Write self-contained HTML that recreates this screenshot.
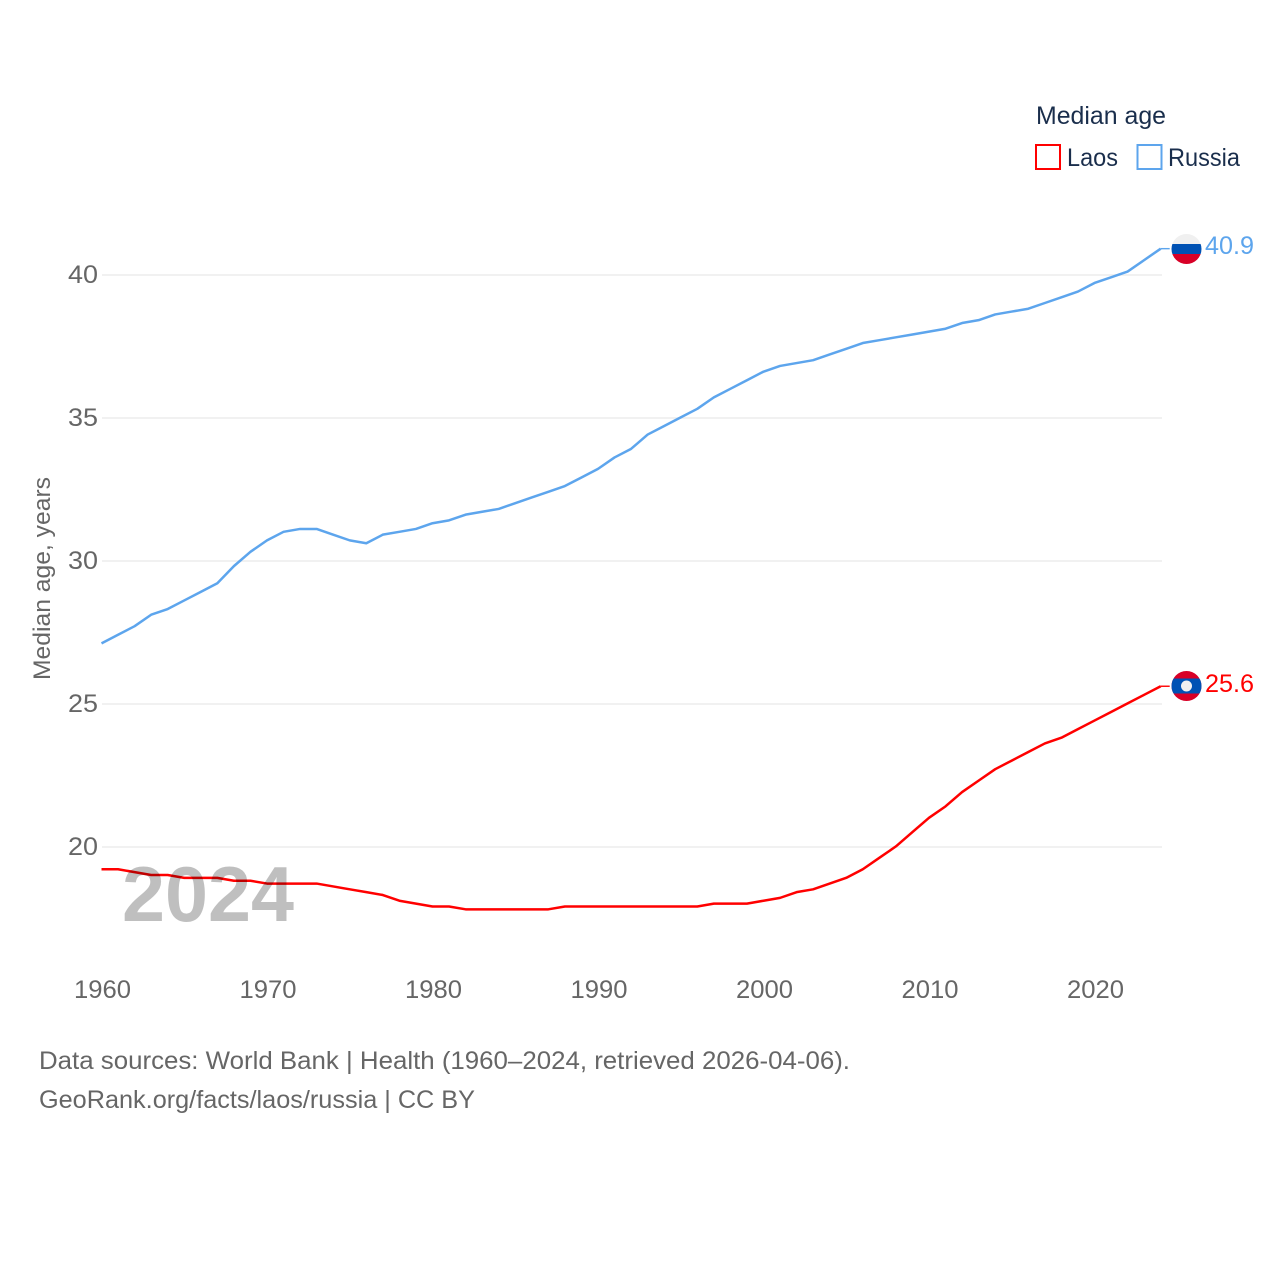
<!DOCTYPE html>
<html lang="en">
<head>
<meta charset="utf-8">
<title>Median age: Laos and Russia</title>
<style>
html,body{margin:0;padding:0;background:#fff;width:1280px;height:1280px;overflow:hidden}
svg{display:block}
text{font-family:"Liberation Sans",sans-serif}
</style>
</head>
<body>
<svg id="chart" xmlns="http://www.w3.org/2000/svg" width="1280" height="1280" viewBox="0 0 1280 1280">
  <defs>
    <clipPath id="flag-ru-clip"><circle cx="1186.500" cy="249" r="15"/></clipPath>
    <clipPath id="flag-la-clip"><circle cx="1186.500" cy="686" r="15"/></clipPath>
  </defs>
  <g id="grid"></g>
  <g id="yticks"></g>
  <g id="xticks"></g>
  <text transform="translate(50,680) rotate(-90)" font-size="24" fill="#666" textLength="203" lengthAdjust="spacingAndGlyphs">Median age, years</text>
  <g id="lines"></g>
  <text x="122" y="921" font-size="78" font-weight="700" fill="#000" fill-opacity="0.25" textLength="172" lengthAdjust="spacingAndGlyphs">2024</text>

  <g clip-path="url(#flag-ru-clip)">
    <rect x="1171" y="234" width="31" height="10" fill="#f0f0f0"/>
    <rect x="1171" y="244" width="31" height="10" fill="#0052b4"/>
    <rect x="1171" y="254" width="31" height="10" fill="#d80027"/>
  </g>
  <g clip-path="url(#flag-la-clip)">
    <rect x="1171" y="671" width="31" height="30" fill="#d80027"/>
    <rect x="1171" y="678.500" width="31" height="15" fill="#0052b4"/>
    <circle cx="1186.500" cy="686" r="5.500" fill="#f0f0f0"/>
  </g>
  <text x="1205" y="254" font-size="25" fill="#5da5ed" textLength="49" lengthAdjust="spacingAndGlyphs">40.9</text>
  <text x="1205" y="692" font-size="25" fill="#ff0000" textLength="49" lengthAdjust="spacingAndGlyphs">25.6</text>

  <g>
    <text x="1036" y="124" font-size="25" fill="#1a2e4c" textLength="130" lengthAdjust="spacingAndGlyphs">Median age</text>
    <rect x="1036" y="145" width="24" height="24" fill="none" stroke="#ff0000" stroke-width="2"/>
    <text x="1067" y="166" font-size="25" fill="#1a2e4c" textLength="51" lengthAdjust="spacingAndGlyphs">Laos</text>
    <rect x="1137.500" y="145" width="24" height="24" fill="none" stroke="#5da5ed" stroke-width="2"/>
    <text x="1168" y="166" font-size="25" fill="#1a2e4c" textLength="72" lengthAdjust="spacingAndGlyphs">Russia</text>
  </g>

  <text x="39" y="1069" font-size="25" fill="#666" textLength="811" lengthAdjust="spacingAndGlyphs">Data sources: World Bank | Health (1960–2024, retrieved 2026-04-06).</text>
  <text x="39" y="1108" font-size="25" fill="#666" textLength="436" lengthAdjust="spacingAndGlyphs">GeoRank.org/facts/laos/russia | CC BY</text>
</svg>
<script>
const years = [1960,1961,1962,1963,1964,1965,1966,1967,1968,1969,1970,1971,1972,1973,1974,1975,1976,1977,1978,1979,1980,1981,1982,1983,1984,1985,1986,1987,1988,1989,1990,1991,1992,1993,1994,1995,1996,1997,1998,1999,2000,2001,2002,2003,2004,2005,2006,2007,2008,2009,2010,2011,2012,2013,2014,2015,2016,2017,2018,2019,2020,2021,2022,2023,2024];
const russiaValues = [27.1,27.4,27.7,28.1,28.3,28.6,28.9,29.2,29.8,30.3,30.7,31.0,31.1,31.1,30.9,30.7,30.6,30.9,31.0,31.1,31.3,31.4,31.6,31.7,31.8,32.0,32.2,32.4,32.6,32.9,33.2,33.6,33.9,34.4,34.7,35.0,35.3,35.7,36.0,36.3,36.6,36.8,36.9,37.0,37.2,37.4,37.6,37.7,37.8,37.9,38.0,38.1,38.3,38.4,38.6,38.7,38.8,39.0,39.2,39.4,39.7,39.9,40.1,40.5,40.9];
const laosValues = [19.2,19.2,19.1,19.0,19.0,18.9,18.9,18.9,18.8,18.8,18.7,18.7,18.7,18.7,18.6,18.5,18.4,18.3,18.1,18.0,17.9,17.9,17.8,17.8,17.8,17.8,17.8,17.8,17.9,17.9,17.9,17.9,17.9,17.9,17.9,17.9,17.9,18.0,18.0,18.0,18.1,18.2,18.4,18.5,18.7,18.9,19.2,19.6,20.0,20.5,21.0,21.4,21.9,22.3,22.7,23.0,23.3,23.6,23.8,24.1,24.4,24.7,25.0,25.3,25.6];
const yTickValues = [20,25,30,35,40];
const xTickValues = [1960,1970,1980,1990,2000,2010,2020];

const NS = 'http://www.w3.org/2000/svg';
function xScale(year){ return 101.5 + (year - 1960) * (1160.7 - 101.5) / 64; }
function yScale(value){ return 847 - (value - 20) * (847 - 275) / 20; }
function markY(value){ return yScale(value) - 0.6; }
function make(tag, parentId, attrs, content){
  const el = document.createElementNS(NS, tag);
  for (const k in attrs) el.setAttribute(k, attrs[k]);
  if (content !== undefined) el.textContent = content;
  document.getElementById(parentId).appendChild(el);
  return el;
}
yTickValues.forEach(function(v){
  const line = make('line', 'grid', {x1:102, x2:1162, y1:yScale(v), y2:yScale(v), stroke:'#f1f1f1', 'stroke-width':2});
  
  
  const label = make('text', 'yticks', {x:98, y:yScale(v) + 8, 'font-size':25, fill:'#666', 'text-anchor':'end', textLength:30, lengthAdjust:'spacingAndGlyphs'}, String(v));
  
  
});
xTickValues.forEach(function(y){
  const label = make('text', 'xticks', {x:xScale(y) + 1, y:998, 'font-size':25, fill:'#666', 'text-anchor':'middle', textLength:57, lengthAdjust:'spacingAndGlyphs'}, String(y));
  
  
});
function linePoints(values){
  return values.map(function(v, i){ return xScale(years[i]).toFixed(2) + ',' + markY(v).toFixed(2); }).join(' ');
}
function drawTail(values, color, name){
  const last = values[values.length - 1];
  const endX = xScale(years[years.length - 1]);
  const tail = make('line', 'lines', {x1:endX, x2:endX + 9, y1:markY(last), y2:markY(last), stroke:color, 'stroke-width':1.4});
  
  
}
const russiaLine = make('polyline', 'lines', {points:linePoints(russiaValues), fill:'none', stroke:'#5da5ed', 'stroke-width':2.5, 'stroke-linejoin':'round'});


const laosLine = make('polyline', 'lines', {points:linePoints(laosValues), fill:'none', stroke:'#ff0000', 'stroke-width':2.5, 'stroke-linejoin':'round'});


drawTail(russiaValues, '#5da5ed', 'russia-line-connector');
drawTail(laosValues, '#ff0000', 'laos-line-connector');
</script>
</body>
</html>
